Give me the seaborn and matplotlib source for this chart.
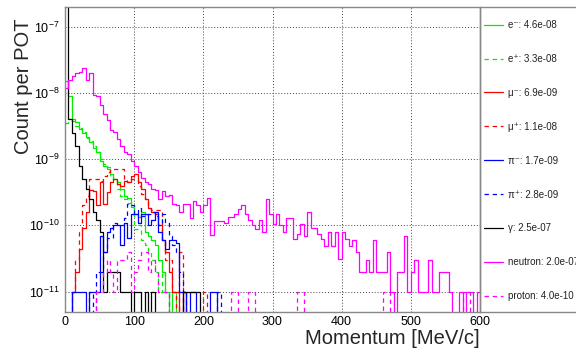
import numpy as np
import pandas as pd
import matplotlib
matplotlib.use("Agg")
import matplotlib.pyplot as plt
import seaborn as sns
from matplotlib.patches import Rectangle
from matplotlib.ticker import MultipleLocator, LogLocator, NullFormatter, FixedLocator

# ---------------- data (count per POT in 5 MeV/c momentum bins, 0-600 MeV/c) -------------
BIN_WIDTH = 5
momentum_centers = np.arange(2.5, 600, BIN_WIDTH)

e_minus = [
    1.5e-8, 9e-9, 4e-9, 3.6e-9, 2.9e-9, 2.5e-9, 2.2e-9, 1.85e-9, 1.5e-9, 1.3e-9,
    9.5e-10, 8e-10, 7e-10, 6e-10, 5e-10, 4.5e-10, 3.5e-10, 2.8e-10, 2.6e-10, 1.9e-10,
    1.5e-10, 1.35e-10, 1.6e-10, 8e-11, 7e-11, 6e-11, 5e-11, 3e-11, 2e-11, 1e-11,
    0, 1e-11, 0, 0, 0, 0, 0, 0, 0, 0,
    0, 0, 0, 0, 0, 0, 0, 0, 0, 0,
    0, 0, 0, 0, 0, 0, 0, 0, 0, 0,
    0, 0, 0, 0, 0, 0, 0, 0, 0, 0,
    0, 0, 0, 0, 0, 0, 0, 0, 0, 0,
    0, 0, 0, 0, 0, 0, 0, 0, 0, 0,
    0, 0, 0, 0, 0, 0, 0, 0, 0, 0,
    0, 0, 0, 0, 0, 0, 0, 0, 0, 0,
    0, 0, 0, 0, 0, 0, 0, 0, 0, 0,
]
e_plus = [
    3.5e-9, 3.8e-9, 3.8e-9, 3.2e-9, 3.0e-9, 2.6e-9, 2.1e-9, 1.9e-9, 1.6e-9, 1.3e-9,
    1.0e-9, 8.5e-10, 7.5e-10, 5.5e-10, 5e-10, 3.6e-10, 2.8e-10, 2.5e-10, 2.2e-10, 2.0e-10,
    8.8e-11, 1e-10, 6e-11, 5e-11, 4e-11, 3e-11, 2e-11, 1e-11, 2e-11, 1e-11,
    0, 0, 0, 0, 0, 0, 0, 0, 0, 0,
    0, 0, 0, 0, 0, 0, 0, 0, 0, 0,
    0, 0, 0, 0, 0, 0, 0, 0, 0, 0,
    0, 0, 0, 0, 0, 0, 0, 0, 0, 0,
    0, 0, 0, 0, 0, 0, 0, 0, 0, 0,
    0, 0, 0, 0, 0, 0, 0, 0, 0, 0,
    0, 0, 0, 0, 0, 0, 0, 0, 0, 0,
    0, 0, 0, 0, 0, 0, 0, 0, 0, 0,
    0, 0, 0, 0, 0, 0, 0, 0, 0, 0,
]
mu_minus = [
    0, 0, 1e-11, 2e-11, 4.4e-11, 9e-11, 1.6e-10, 3.4e-10, 3.3e-10, 2e-10,
    4.5e-10, 2.1e-10, 3.2e-10, 4.5e-10, 5e-10, 4.2e-10, 4e-10, 4.7e-10, 4.5e-10, 5.5e-10,
    6e-10, 4.5e-10, 3.5e-10, 2.5e-10, 1.8e-10, 1.6e-10, 1.5e-10, 1e-10, 6e-11, 4e-11,
    2e-11, 1e-11, 1e-11, 0, 1e-11, 0, 0, 0, 0, 0,
    0, 0, 0, 0, 0, 0, 0, 0, 0, 0,
    0, 0, 0, 0, 0, 0, 0, 0, 0, 0,
    0, 0, 0, 0, 0, 0, 0, 0, 0, 0,
    0, 0, 0, 0, 0, 0, 0, 0, 0, 0,
    0, 0, 0, 0, 0, 0, 0, 0, 0, 0,
    0, 0, 0, 0, 0, 0, 0, 0, 0, 0,
    0, 0, 0, 0, 0, 0, 0, 0, 0, 0,
    0, 0, 0, 0, 0, 0, 0, 0, 0, 0,
]
mu_plus = [
    0, 0, 1e-11, 3e-11, 8e-11, 2e-10, 2.8e-10, 5e-10, 5e-10, 5e-10,
    4.7e-10, 5.6e-10, 6.5e-10, 7e-10, 7e-10, 7.1e-10, 7.1e-10, 5e-10, 4.6e-10, 5e-10,
    5e-10, 4e-10, 3e-10, 2.5e-10, 1.8e-10, 1.7e-10, 1.7e-10, 1.7e-10, 6e-11, 3e-11,
    3e-11, 1e-11, 0, 4e-11, 1e-11, 0, 0, 0, 0, 0,
    1e-11, 0, 0, 0, 0, 0, 0, 0, 0, 0,
    0, 0, 0, 0, 0, 0, 0, 0, 0, 0,
    0, 0, 0, 0, 0, 0, 0, 0, 0, 0,
    0, 0, 0, 0, 0, 0, 0, 0, 0, 0,
    0, 0, 0, 0, 0, 0, 0, 0, 0, 0,
    0, 0, 0, 0, 0, 0, 0, 0, 0, 0,
    0, 0, 0, 0, 0, 0, 0, 0, 0, 0,
    0, 0, 0, 0, 0, 0, 0, 0, 0, 0,
]
pi_minus = [
    0, 0, 1e-11, 1e-11, 1e-11, 1e-11, 0, 1e-11, 1e-11, 1e-11,
    7e-11, 4e-11, 8e-11, 9e-11, 1e-10, 1e-10, 5e-11, 1.1e-10, 6.5e-11, 1.5e-10,
    1.5e-10, 1.1e-10, 1.5e-10, 1.5e-10, 1e-10, 1.2e-10, 1.6e-10, 8e-11, 6e-11, 4.4e-11,
    6e-11, 6e-11, 5.5e-11, 1e-11, 1e-11, 0, 1e-11, 1e-11, 0, 0,
    0, 0, 1e-11, 1e-11, 0, 0, 0, 0, 0, 0,
    0, 0, 0, 0, 0, 0, 0, 0, 0, 0,
    0, 0, 0, 0, 0, 0, 0, 0, 0, 0,
    0, 0, 0, 0, 0, 0, 0, 0, 0, 0,
    0, 0, 0, 0, 0, 0, 0, 0, 0, 0,
    0, 0, 0, 0, 0, 0, 0, 0, 0, 0,
    0, 0, 0, 0, 0, 0, 0, 0, 0, 0,
    0, 0, 0, 0, 0, 0, 0, 0, 0, 0,
]
pi_plus = [
    0, 0, 0, 0, 0, 0, 0, 1e-11, 0, 2e-11,
    2e-11, 4e-11, 6.5e-11, 6.5e-11, 1.1e-10, 1e-10, 1e-10, 1.3e-10, 2.1e-10, 2e-10,
    1.5e-10, 1.8e-10, 1.4e-10, 1.4e-10, 1.5e-10, 1.6e-10, 1.4e-10, 1e-10, 1.5e-10, 1.1e-10,
    7e-11, 5e-11, 4e-11, 2e-11, 0, 0, 0, 0, 0, 0,
    0, 0, 0, 0, 1e-11, 0, 0, 0, 0, 0,
    0, 0, 0, 0, 0, 0, 0, 0, 0, 0,
    0, 0, 0, 0, 0, 0, 0, 0, 0, 0,
    0, 0, 0, 0, 0, 0, 0, 0, 0, 0,
    0, 0, 0, 0, 0, 0, 0, 0, 0, 0,
    0, 0, 0, 0, 0, 0, 0, 0, 0, 0,
    0, 0, 0, 0, 0, 0, 0, 0, 0, 0,
    0, 0, 0, 0, 0, 0, 0, 0, 0, 0,
]
gamma = [
    2.3e-7, 4e-9, 2.5e-9, 1.6e-9, 8e-10, 5e-10, 3.5e-10, 2.5e-10, 1.6e-10, 1.2e-10,
    8e-11, 1e-11, 2e-11, 2e-11, 2e-11, 2e-11, 1e-11, 1e-11, 1e-11, 0,
    1e-11, 1e-11, 0, 1e-11, 0, 1e-11, 0, 0, 0, 0,
    0, 0, 0, 0, 1e-11, 1e-11, 1e-11, 1e-11, 1e-11, 0,
    0, 0, 0, 0, 0, 0, 0, 0, 0, 0,
    0, 0, 0, 0, 0, 0, 0, 0, 0, 0,
    0, 0, 0, 0, 0, 0, 0, 0, 0, 0,
    0, 0, 0, 0, 0, 0, 0, 0, 0, 0,
    0, 0, 0, 0, 0, 0, 0, 0, 0, 0,
    0, 0, 0, 0, 0, 0, 0, 0, 0, 0,
    0, 0, 0, 0, 0, 0, 0, 0, 0, 0,
    0, 0, 0, 0, 0, 0, 0, 0, 0, 0,
]
neutron = [
    1.2e-8, 1.6e-8, 1.8e-8, 2.0e-8, 2.1e-8, 2.4e-8, 1.55e-8, 2.0e-8, 9.5e-9, 9e-9,
    6.5e-9, 4.9e-9, 3.9e-9, 2.8e-9, 2.6e-9, 2.0e-9, 1.6e-9, 1.3e-9, 1.2e-9, 9.5e-10,
    8e-10, 6.5e-10, 5.2e-10, 4.5e-10, 4.2e-10, 3.5e-10, 3.4e-10, 2.5e-10, 3.3e-10, 2.8e-10,
    2.9e-10, 2.1e-10, 2.0e-10, 1.6e-10, 2.1e-10, 2.1e-10, 1.3e-10, 2.3e-10, 2.0e-10, 1.6e-10,
    2.0e-10, 2.6e-10, 7.1e-11, 1.17e-10, 1.17e-10, 1.17e-10, 1.08e-10, 1.32e-10, 1.32e-10, 1.5e-10,
    1.77e-10, 2.0e-10, 1.5e-10, 1.2e-10, 1.0e-10, 8.8e-11, 1.2e-10, 8e-11, 2.5e-10, 1.5e-10,
    1.05e-10, 1.5e-10, 1.0e-10, 7.8e-11, 1.28e-10, 1.28e-10, 6.2e-11, 7.4e-11, 1.05e-10, 6.8e-11,
    1.57e-10, 9e-11, 9e-11, 7.4e-11, 6.2e-11, 4.9e-11, 7.8e-11, 4.9e-11, 8e-11, 3.1e-11,
    7.8e-11, 6.2e-11, 4.9e-11, 6e-11, 3.9e-11, 2e-11, 2e-11, 3e-11, 2e-11, 6e-11,
    2e-11, 2e-11, 2e-11, 4e-11, 1e-11, 0, 2e-11, 2e-11, 7e-11, 1e-11,
    2e-11, 3e-11, 1e-11, 1e-11, 1e-11, 3e-11, 1e-11, 1e-11, 2e-11, 2e-11,
    2e-11, 1e-11, 0, 0, 1e-11, 0, 1e-11, 1e-11, 0, 1e-11,
]
proton = [
    0, 0, 0, 0, 0, 0, 0, 0, 0, 1e-11,
    1e-11, 2e-11, 3e-11, 2e-11, 1e-11, 3e-11, 3e-11, 3e-11, 4e-11, 1e-11,
    2e-11, 3e-11, 4e-11, 4e-11, 2e-11, 3e-11, 2e-11, 1e-11, 1e-11, 1e-11,
    0, 0, 0, 0, 0, 0, 0, 0, 0, 0,
    0, 0, 0, 0, 0, 0, 0, 0, 1e-11, 1e-11,
    0, 0, 0, 1e-11, 1e-11, 0, 0, 0, 0, 0,
    0, 0, 0, 0, 0, 0, 0, 1e-11, 1e-11, 0,
    0, 0, 0, 0, 0, 0, 0, 0, 0, 0,
    0, 0, 0, 0, 0, 0, 0, 0, 0, 0,
    0, 0, 1e-11, 1e-11, 0, 0, 0, 0, 0, 0,
    0, 0, 0, 0, 0, 0, 0, 0, 0, 0,
    0, 0, 0, 0, 0, 1e-11, 1e-11, 0, 0, 0,
]

legend_labels = [
    "e\u207b: 4.6e-08", "e\u207a: 3.3e-08", "\u03bc\u207b: 6.9e-09", "\u03bc\u207a: 1.1e-08",
    "\u03c0\u207b: 1.7e-09", "\u03c0\u207a: 2.8e-09", "\u03b3: 2.5e-07",
    "neutron: 2.0e-07", "proton: 4.0e-10",
]
series_values = [e_minus, e_plus, mu_minus, mu_plus, pi_minus, pi_plus, gamma, neutron, proton]
series_colors = ["#00ee00", "#00ee00", "#ff0000", "#ff0000", "#0000ff", "#0000ff",
                 "#000000", "#ff00ff", "#ff00ff"]
series_styles = ["-", (0, (3.5, 3)), "-", (0, (3.5, 3)), "-", (0, (3.5, 3)),
                 "-", "-", (0, (3.5, 3))]

x_ticks = [0, 100, 200, 300, 400, 500, 600]
y_ticks = [1e-11, 1e-10, 1e-9, 1e-8, 1e-7]

# ---------------- style ----------------
sns.set_style("white")
plt.rcParams["font.family"] = ["Liberation Sans", "DejaVu Sans"]
plt.rcParams["mathtext.fontset"] = "custom"
plt.rcParams["mathtext.rm"] = "Liberation Sans"
plt.rcParams["mathtext.it"] = "Liberation Sans:italic"
plt.rcParams["mathtext.bf"] = "Liberation Sans:bold"
plt.rcParams["mathtext.default"] = "regular"
plt.rcParams["text.color"] = "black"

W, H = 576, 350
fig = plt.figure(figsize=(W / 100, H / 100), dpi=100)
ax_left, ax_right, ax_top, ax_bottom = 65, 480, 7, 312
ax = fig.add_axes([ax_left / W, 1 - ax_bottom / H, (ax_right - ax_left) / W, (ax_bottom - ax_top) / H])
ax.set_facecolor("white")

for vals, col, ls, lab in zip(series_values, series_colors, series_styles, legend_labels):
    df = pd.DataFrame({"momentum": momentum_centers, "count_per_pot": vals})
    sns.histplot(data=df, x="momentum", weights="count_per_pot", binwidth=BIN_WIDTH,
                 binrange=(0, 600), element="step", fill=False, color=col,
                 linestyle=ls, linewidth=0.9, label=lab, ax=ax)

ax.set_yscale("log")
ax.set_xlim(0, 600)
ax.set_ylim(4.9e-12, 2.0e-7)

ax.set_xticks(x_ticks)
ax.xaxis.set_minor_locator(MultipleLocator(20))
ax.yaxis.set_major_locator(FixedLocator(y_ticks))
ax.yaxis.set_minor_locator(LogLocator(base=10, subs=np.arange(2, 10), numticks=50))
ax.yaxis.set_minor_formatter(NullFormatter())
ax.tick_params(which="both", direction="in", top=False, right=False, colors="#222222",
               labelcolor="black", labelsize=9)
ax.tick_params(which="major", length=7, width=0.8)
ax.tick_params(which="minor", length=3.5, width=0.8)
ax.tick_params(axis="y", which="major", pad=4)
ax.tick_params(axis="x", which="major", pad=3)

ax.grid(True, which="major", color="#444444", linestyle=(0, (1, 2)), linewidth=0.7)
for sp in ax.spines.values():
    sp.set_color("#888888")
    sp.set_linewidth(1.0)

ax.set_xlabel("Momentum [MeV/c]", fontsize=14.5, ha="right", va="center")
ax.xaxis.set_label_coords(1.0, -0.087)
ax.set_ylabel("Count per POT", fontsize=14.5, ha="center", va="center")
ax.yaxis.set_label_coords(-0.101, 0.74)

# legend panel on the right
fig.patches.append(Rectangle((ax_right / W, 1 - ax_bottom / H), 0.3, (ax_bottom - ax_top) / H,
                             transform=fig.transFigure, fill=False, edgecolor="#888888",
                             linewidth=1.0, zorder=0))
handles, labels = ax.get_legend_handles_labels()
leg = ax.legend(handles, labels, loc="upper left", bbox_to_anchor=(484 / W, 1 - 20 / H),
                bbox_transform=fig.transFigure, frameon=False, fontsize=7,
                handlelength=2.0, handletextpad=0.45, labelspacing=2.46,
                borderpad=0, borderaxespad=0)
for t in leg.get_texts():
    t.set_color("#222222")

fig.savefig("out.png", dpi=100, facecolor="white")
